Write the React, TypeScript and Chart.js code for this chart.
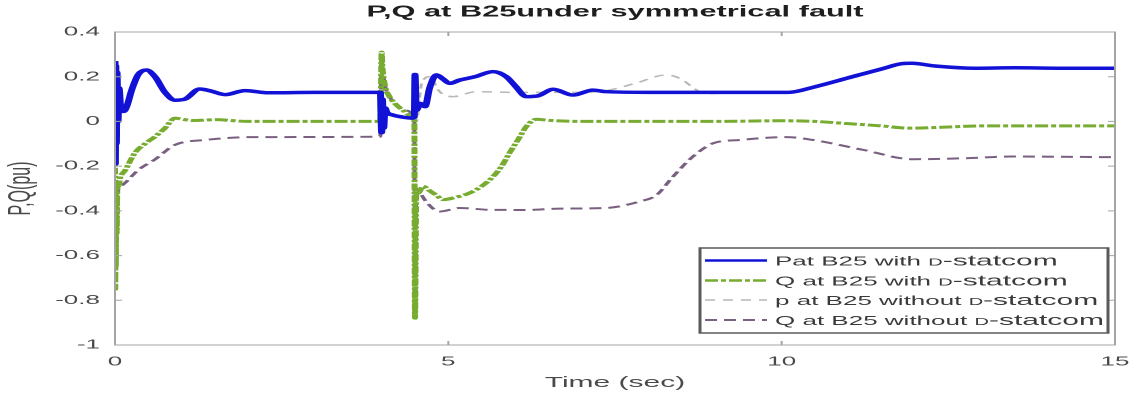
import React, { useEffect, useRef } from 'react';
import { Chart, registerables } from 'chart.js';

Chart.register(...registerables);

const FONT = '"Liberation Sans", Arial, Helvetica, sans-serif';
const W = 568;
const H = 398;

const chartTitle = 'P,Q at B25under symmetrical fault';
const xAxisTitle = 'Time (sec)';
const yAxisTitle = 'P,Q(pu)';

const xTicks = [0, 5, 10, 15];
const xTickLabels = ['0', '5', '10', '15'];
const yTicks = [-1, -0.8, -0.6, -0.4, -0.2, 0, 0.2, 0.4];
const yTickLabels = ['-1', '-0.8', '-0.6', '-0.4', '-0.2', '0', '0.2', '0.4'];

// P at B25 with D-statcom
const pWithT = [0, 0.005, 0.012, 0.02, 0.03, 0.045, 0.06, 0.09, 0.13, 0.18, 0.25, 0.35, 0.47, 0.6, 0.75, 0.9, 1.05, 1.27, 1.45, 1.65, 1.95, 2.3, 3.0, 3.98, 4.0, 4.01, 4.03, 4.05, 4.08, 4.15, 4.3, 4.45, 4.49, 4.5, 4.52, 4.58, 4.65, 4.72, 4.82, 4.92, 5.02, 5.17, 5.4, 5.67, 5.87, 6.0, 6.17, 6.35, 6.57, 6.87, 7.17, 7.37, 8.0, 9.0, 10.1, 10.5, 11.0, 11.5, 11.8, 11.95, 12.3, 12.9, 13.5, 14.2, 15];
const pWithV = [0.27, -0.19, 0.25, -0.1, 0.22, 0.0, 0.15, 0.05, 0.045, 0.07, 0.14, 0.21, 0.23, 0.2, 0.13, 0.095, 0.1, 0.145, 0.135, 0.12, 0.138, 0.128, 0.13, 0.13, -0.05, 0.1, -0.03, 0.06, 0.04, 0.03, 0.02, 0.015, 0.02, 0.21, 0.05, 0.08, 0.066, 0.15, 0.208, 0.19, 0.17, 0.185, 0.2, 0.223, 0.2, 0.16, 0.111, 0.115, 0.144, 0.118, 0.14, 0.133, 0.13, 0.13, 0.13, 0.155, 0.195, 0.235, 0.258, 0.26, 0.248, 0.238, 0.24, 0.238, 0.238];

// Q at B25 with D-statcom
const qWithT = [0, 0.004, 0.008, 0.012, 0.018, 0.025, 0.035, 0.05, 0.08, 0.15, 0.3, 0.45, 0.6, 0.75, 0.9, 1.0, 1.2, 1.5, 2.0, 3.0, 3.98, 4.0, 4.01, 4.05, 4.12, 4.2, 4.32, 4.45, 4.49, 4.5, 4.52, 4.55, 4.62, 4.72, 4.82, 4.92, 5.1, 5.32, 5.5, 5.67, 5.8, 5.92, 6.05, 6.17, 6.32, 6.5, 7.0, 8.0, 9.0, 10.0, 10.5, 11.0, 11.5, 11.9, 12.5, 13.0, 14.0, 15];
const qWithV = [-0.1, -0.75, -0.3, -0.65, -0.35, -0.5, -0.27, -0.29, -0.25, -0.22, -0.14, -0.1, -0.068, -0.03, 0.015, 0.01, 0.004, 0.008, 0.0, 0.0, 0.0, 0.31, 0.25, 0.16, 0.11, 0.08, 0.05, 0.025, 0.02, -0.88, -0.31, -0.32, -0.29, -0.31, -0.33, -0.35, -0.34, -0.32, -0.29, -0.247, -0.2, -0.14, -0.08, -0.023, 0.01, 0.005, 0.0, 0.0, 0.0, 0.003, 0.0, -0.01, -0.02, -0.03, -0.025, -0.02, -0.02, -0.02];

// p at B25 without D-statcom
const pNoT = [0, 0.005, 0.012, 0.02, 0.03, 0.045, 0.06, 0.09, 0.13, 0.18, 0.25, 0.35, 0.47, 0.6, 0.75, 0.9, 1.05, 1.27, 1.45, 1.65, 1.95, 2.3, 3.0, 3.98, 4.0, 4.01, 4.05, 4.15, 4.3, 4.49, 4.5, 4.52, 4.6, 4.72, 4.87, 5.07, 5.42, 6.0, 7.0, 7.37, 7.8, 8.27, 8.47, 8.77, 8.95, 9.5, 10.1, 10.5, 11.0, 11.5, 11.8, 11.95, 12.3, 12.9, 13.5, 15];
const pNoV = [0.27, -0.19, 0.25, -0.1, 0.22, 0.0, 0.15, 0.05, 0.045, 0.07, 0.14, 0.21, 0.23, 0.2, 0.13, 0.095, 0.1, 0.145, 0.135, 0.12, 0.138, 0.128, 0.13, 0.13, -0.05, 0.1, 0.06, 0.03, 0.02, 0.015, 0.21, 0.0, 0.17, 0.2, 0.133, 0.111, 0.133, 0.13, 0.13, 0.138, 0.17, 0.208, 0.193, 0.133, 0.125, 0.128, 0.13, 0.155, 0.195, 0.235, 0.258, 0.26, 0.248, 0.238, 0.24, 0.238];

// Q at B25 without D-statcom
const qNoT = [0, 0.004, 0.008, 0.012, 0.02, 0.03, 0.05, 0.08, 0.15, 0.35, 0.6, 0.9, 1.35, 2.1, 3.98, 4.0, 4.01, 4.05, 4.12, 4.2, 4.32, 4.49, 4.5, 4.52, 4.6, 4.67, 4.87, 5.17, 5.6, 6.17, 6.67, 7.37, 7.87, 8.12, 8.37, 8.67, 8.97, 9.37, 10.07, 10.47, 11.22, 11.97, 12.72, 13.47, 15];
const qNoV = [-0.3, -0.6, -0.35, -0.55, -0.3, -0.45, -0.3, -0.29, -0.275, -0.217, -0.17, -0.105, -0.083, -0.07, -0.068, 0.3, 0.25, 0.16, 0.11, 0.08, 0.05, 0.02, -0.85, -0.3, -0.33, -0.36, -0.403, -0.387, -0.395, -0.396, -0.39, -0.387, -0.358, -0.33, -0.247, -0.157, -0.098, -0.083, -0.07, -0.083, -0.127, -0.169, -0.165, -0.157, -0.16];

const seriesLabels = ['Pat B25 with ', 'Q at B25 with ', 'p at B25 without ', 'Q at B25 without '];
const seriesColors = ['#1212d6', '#77ac30', '#b8b8b8', '#7a6080'];
const seriesWidths = [3.5, 3, 1.5, 2];
const seriesDash: number[][] = [[], [6.5, 1.5, 2.5, 1.5], [5, 4], [6, 3.5]];

const mk = (t: number[], v: number[]) => t.map((x, i) => ({ x, y: v[i] }));

const decor = {
  id: 'decor',
  afterDatasetsDraw(chart: any) {
    const { ctx, chartArea: a, scales } = chart;
    const xs = scales.x;
    const ys = scales.y;
    ctx.save();
    // axes box
    ctx.strokeStyle = '#a4a4a4';
    ctx.lineWidth = 1;
    ctx.setLineDash([]);
    ctx.strokeRect(a.left, a.top, a.right - a.left, a.bottom - a.top);
    // inward ticks
    ctx.beginPath();
    xTicks.forEach((v) => {
      const px = xs.getPixelForValue(v);
      ctx.moveTo(px, a.bottom);
      ctx.lineTo(px, a.bottom - 4);
      ctx.moveTo(px, a.top);
      ctx.lineTo(px, a.top + 4);
    });
    yTicks.forEach((v) => {
      const py = ys.getPixelForValue(v);
      ctx.moveTo(a.left, py);
      ctx.lineTo(a.left + 3.5, py);
      ctx.moveTo(a.right, py);
      ctx.lineTo(a.right - 3.5, py);
    });
    ctx.stroke();

    // title
    ctx.fillStyle = '#1e1e1e';
    ctx.font = `bold 15.4px ${FONT}`;
    ctx.textAlign = 'center';
    ctx.textBaseline = 'middle';
    ctx.fillText(chartTitle, (a.left + a.right) / 2, 12);

    // legend
    const bx = 350, by = 248, bw = 204, bh = 85;
    ctx.fillStyle = '#ffffff';
    ctx.fillRect(bx, by, bw, bh);
    ctx.strokeStyle = '#5a5a5a';
    ctx.lineWidth = 1.5;
    ctx.strokeRect(bx, by, bw, bh);
    const rowY = [260.5, 280.5, 300, 320];
    seriesLabels.forEach((lab, i) => {
      const y = rowY[i];
      ctx.strokeStyle = seriesColors[i];
      ctx.lineWidth = Math.min(seriesWidths[i], 2.5);
      ctx.setLineDash(seriesDash[i]);
      ctx.beginPath();
      ctx.moveTo(352.5, y);
      ctx.lineTo(383.5, y);
      ctx.stroke();
      ctx.setLineDash([]);
      ctx.textAlign = 'left';
      ctx.textBaseline = 'alphabetic';
      ctx.fillStyle = '#3a3a3a';
      let x = 387.5;
      ctx.font = `13px ${FONT}`;
      ctx.fillText(lab, x, y + 5);
      x += ctx.measureText(lab).width;
      ctx.font = `10px ${FONT}`;
      ctx.fillText('D', x, y + 5);
      x += ctx.measureText('D').width;
      ctx.font = `15px ${FONT}`;
      ctx.fillText('-statcom', x, y + 5);
    });
    ctx.restore();
  },
};

export default function App() {
  const ref = useRef<HTMLCanvasElement>(null);
  useEffect(() => {
    const canvas = ref.current;
    if (!canvas) return;
    const chart = new Chart(canvas, {
      type: 'line',
      data: {
        datasets: [
          { label: seriesLabels[0], data: mk(pWithT, pWithV) },
          { label: seriesLabels[1], data: mk(qWithT, qWithV) },
          { label: seriesLabels[2], data: mk(pNoT, pNoV) },
          { label: seriesLabels[3], data: mk(qNoT, qNoV) },
        ].map((d, i) => ({
          ...d,
          borderColor: seriesColors[i],
          borderWidth: seriesWidths[i],
          borderDash: seriesDash[i],
          pointRadius: 0,
          fill: false,
          cubicInterpolationMode: 'monotone' as const,
          borderJoinStyle: 'round' as const,
        })),
      },
      options: {
        animation: false,
        responsive: false,
        devicePixelRatio: 2,
        layout: { padding: { top: 32, right: 10.5, left: 0, bottom: 0 } },
        plugins: {
          legend: { display: false },
          title: { display: false },
          tooltip: { enabled: false },
        },
        scales: {
          x: {
            type: 'linear',
            min: 0,
            max: 15,
            grid: { display: false, drawTicks: false },
            border: { display: false },
            afterBuildTicks: (s: any) => {
              s.ticks = xTicks.map((v) => ({ value: v }));
            },
            afterFit: (s: any) => {
              s.height = 53;
              s.paddingLeft = 0;
              s.paddingRight = 0;
            },
            ticks: {
              autoSkip: false,
              maxRotation: 0,
              padding: 9,
              color: '#4a4a4a',
              font: { family: FONT, size: 13 },
              callback: (_v: any, i: number) => xTickLabels[i],
            },
            title: {
              display: true,
              text: xAxisTitle,
              color: '#4a4a4a',
              font: { family: FONT, size: 15 },
              padding: { top: 0, bottom: 6 },
            },
          },
          y: {
            type: 'linear',
            min: -1,
            max: 0.4,
            grid: { display: false, drawTicks: false },
            border: { display: false },
            afterBuildTicks: (s: any) => {
              s.ticks = yTicks.map((v) => ({ value: v }));
            },
            afterFit: (s: any) => {
              s.width = 57.5;
            },
            ticks: {
              autoSkip: false,
              padding: 7.5,
              color: '#4a4a4a',
              font: { family: FONT, size: 13 },
              callback: (_v: any, i: number) => yTickLabels[i],
            },
            title: {
              display: true,
              text: yAxisTitle,
              color: '#4a4a4a',
              font: { family: FONT, size: 16 },
              padding: { top: 1, bottom: 0 },
            },
          },
        },
      },
      plugins: [decor],
    });
    return () => chart.destroy();
  }, []);
  return (
    <div
      style={{
        position: 'absolute',
        left: 0,
        top: 0,
        width: W,
        height: H,
        transform: 'scaleX(2)',
        transformOrigin: '0 0',
        background: '#ffffff',
      }}
    >
      <canvas ref={ref} width={W} height={H} style={{ display: 'block', width: W, height: H }} />
    </div>
  );
}
